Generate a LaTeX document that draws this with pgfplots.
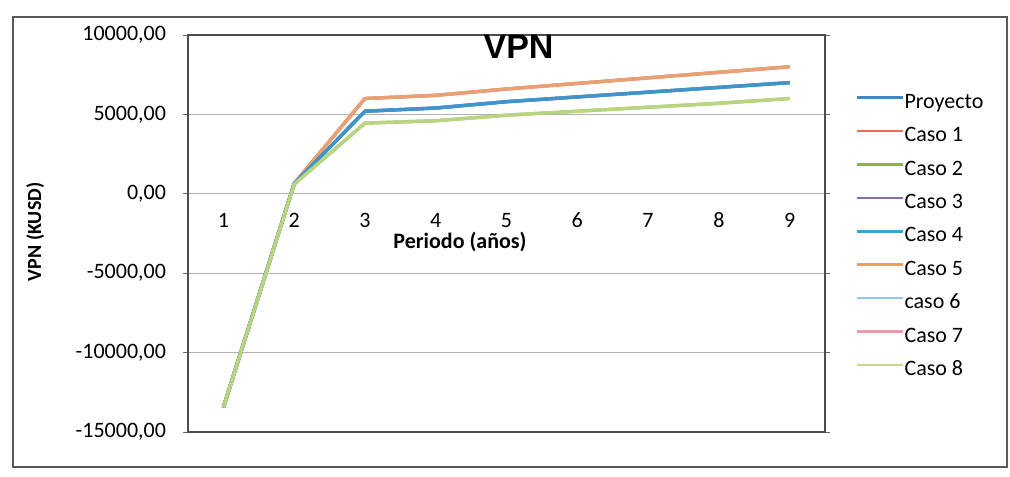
\documentclass[border=0pt]{standalone}
\usepackage{pgfplots}
\pgfplotsset{compat=1.18}
\usepackage{fontspec}
\setmainfont{Carlito}
\newfontfamily\titlefont{Liberation Sans}

% series colours
\definecolor{cProy}{HTML}{3F8AC6}
\definecolor{cC1}{HTML}{E0704F}
\definecolor{cC2}{HTML}{8DB443}
\definecolor{cC3}{HTML}{8A6CB0}
\definecolor{cC4}{HTML}{3FA3D0}
\definecolor{cC5}{HTML}{F0A050}
\definecolor{cC6}{HTML}{8CCFE0}
\definecolor{cC7}{HTML}{E0A0A8}
\definecolor{cC8}{HTML}{C0DC8C}

% VPN per period (KUSD)
\pgfplotstableread{
x   y
1   -13450
2   630
3   5200
4   5400
5   5800
6   6100
7   6400
8   6700
9   7000
}\proyecto
\pgfplotstableread{
x   y
1   -13450
2   650
3   6000
4   6200
5   6600
6   6950
7   7300
8   7650
9   8000
}\altos
\pgfplotstableread{
x   y
1   -13450
2   600
3   4450
4   4600
5   4950
6   5200
7   5450
8   5700
9   6000
}\bajos

\begin{document}
\begin{tikzpicture}[x=0.75pt,y=0.75pt]
% page extent and outer chart frame
\path (0,0) rectangle (1010,477);
\draw[black!65, line width=0.8pt] (13,10) rectangle (1007,460);
\begin{axis}[
  at={(141pt,33.75pt)}, anchor=south west,
  scale only axis, width=477.75pt, height=297.75pt,
  xmin=0.5, xmax=9.5, ymin=-15000, ymax=10000,
  xtick={1,...,9},
  x tick style={draw=none},
  xticklabel style={anchor=center, yshift=162.75pt, font=\fontsize{16.5}{18}\selectfont},
  ytick={-15000,-10000,-5000,0,5000,10000},
  y tick style={black!60, line width=0.6pt},
  tick align=outside, major tick length=4pt,
  yticklabel style={font=\fontsize{16.5}{18}\selectfont, xshift=-9pt},
  /pgf/number format/assume math mode=true,
  yticklabel={\pgfmathprintnumber[fixed, fixed zerofill, precision=2, use comma, 1000 sep={}]{\tick}},
  scaled y ticks=false,
  ymajorgrids, grid style={black!30, line width=0.6pt},
  axis line style={black!70, line width=0.8pt},
  xlabel={\bfseries Periodo (años)},
  xlabel style={at={(rel axis cs:0.427,0.479)}, anchor=center, font=\fontsize{16.5}{18}\selectfont},
  ylabel={\bfseries VPN (KUSD)},
  ylabel style={at={(rel axis cs:-0.240,0.504)}, anchor=center, font=\fontsize{15}{17}\selectfont},
  legend style={at={(rel axis cs:1.047,0.8715)}, anchor=north west, draw=none, fill=none,
    font=\fontsize{16.5}{18}\selectfont, inner sep=0pt, row sep=0pt,
    nodes={inner sep=0pt, text height=16.5pt, text depth=8.55pt}},
  legend cell align=left,
  legend image code/.code={\draw[#1, line width=2pt] (0pt,4pt) -- (35pt,4pt);},
  every axis plot/.append style={line width=2.5pt, line join=round},
]
% upper group
\addplot[cC1, forget plot] table {\altos};
\addplot[cC7, forget plot] table {\altos};
\addplot[cC5, opacity=0.6, forget plot] table {\altos};
% middle group
\addplot[cC6, forget plot] table {\proyecto};
\addplot[cC3, forget plot] table {\proyecto};
\addplot[cC4, forget plot] table {\proyecto};
\addplot[cProy, opacity=0.6, forget plot] table {\proyecto};
% lower group
\addplot[cC2, forget plot] table {\bajos};
\addplot[cC8, opacity=0.85, forget plot] table {\bajos};

% category separators on the zero line
\pgfplotsinvokeforeach{1.5,2.5,3.5,4.5,5.5,6.5,7.5,8.5}{
  \draw[black!60, line width=0.6pt] (axis cs:#1,0) ++(0,-2pt) -- ++(0,5pt);
}

% chart title
\node[anchor=base, inner sep=0pt, font=\titlefont\bfseries\fontsize{25.5}{28}\selectfont]
  at (rel axis cs:0.519,0.942) {VPN};

\addlegendimage{cProy}\addlegendentry{Proyecto}
\addlegendimage{cC1}\addlegendentry{Caso 1}
\addlegendimage{cC2}\addlegendentry{Caso 2}
\addlegendimage{cC3}\addlegendentry{Caso 3}
\addlegendimage{cC4}\addlegendentry{Caso 4}
\addlegendimage{cC5}\addlegendentry{Caso 5}
\addlegendimage{cC6}\addlegendentry{caso 6}
\addlegendimage{cC7}\addlegendentry{Caso 7}
\addlegendimage{cC8}\addlegendentry{Caso 8}
\end{axis}
\end{tikzpicture}
\end{document}
